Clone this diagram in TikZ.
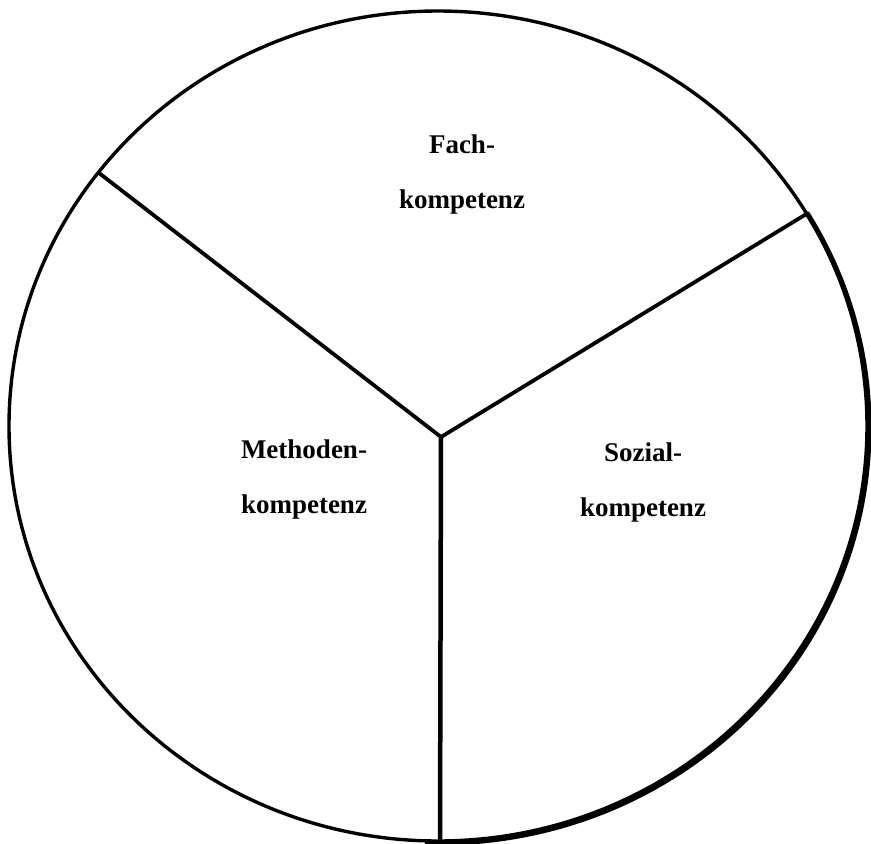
\documentclass[tikz,border=0pt]{standalone}
\usepackage{fontspec}
\setmainfont{Liberation Serif}
\begin{document}
\begin{tikzpicture}[x=1pt,y=-1pt,
  label/.style={font=\fontsize{27}{55}\selectfont\bfseries, align=center, inner sep=0pt},
  spoke/.style={line width=3.8pt, line cap=round}]
\useasboundingbox (0,0) rectangle (871,844);
\fill[white] (0,0) rectangle (871,844);
\coordinate (c) at (438,426);
\draw[line width=3.4pt] (c) ellipse [x radius=429pt, y radius=415pt];
\draw[line width=5pt] ([shift={(2,2)}]c) ++(31:429pt and 415pt)
  arc[start angle=31, end angle=-92, x radius=429pt, y radius=415pt];
\coordinate (hub) at (441,437);
\coordinate (pl) at (99,173);
\coordinate (pr) at (808,213);
\coordinate (pb) at (440,842);
\draw[spoke] (hub) -- (pl);
\draw[spoke] (hub) -- (pr);
\draw[line width=4.5pt] (hub) -- (pb);
\node[label] (fach) at (462,175) {Fach-\\kompetenz};
\node[label] (meth) at (304,480) {Methoden-\\kompetenz};
\node[label] (soz) at (643,482) {Sozial-\\kompetenz};
\end{tikzpicture}
\end{document}
